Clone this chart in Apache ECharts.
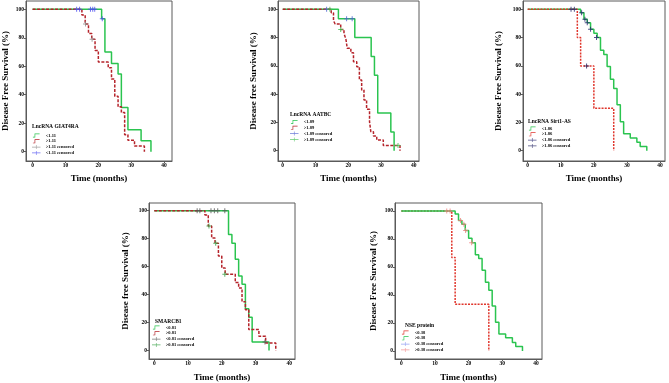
<!DOCTYPE html>
<html>
<head>
<meta charset="utf-8">
<script src="https://cdn.jsdelivr.net/npm/echarts@6/dist/echarts.min.js"></script>
<style>
  html, body { margin: 0; padding: 0; background: #fff; }
  #chart { width: 669px; height: 383px; }
</style>
</head>
<body>
<div id="chart"></div>
<script>
// axis tick labels
var xTicks = [0, 10, 20, 30, 40]
var yTicks = [0, 20, 40, 60, 80, 100]

// LncRNA GIAT4RA
var p1LowT = [0, 21, 22, 24, 26, 27, 29, 33, 36]
var p1LowS = [100, 93.3, 70, 62, 54.5, 31, 15.5, 7.8, 0]
var p1HighT = [0, 15, 16, 17, 18, 19, 20, 23, 24, 25, 26, 27, 28, 29, 31, 34]
var p1HighS = [100, 96, 89.7, 83, 79, 71, 63, 59, 51, 39, 31.5, 27.5, 12, 8, 4, 0]
var p1CensHighT = [16.1, 18.1]
var p1CensHighS = [89.7, 79]
var p1CensLowT = [13.4, 14.3, 17.6, 18.3, 18.9, 21.2]
var p1CensLowS = [100, 100, 100, 100, 100, 93.3]

// LncRNA AATBC
var p2LowT = [0, 17, 22, 27, 28, 29, 33, 34]
var p2LowS = [100, 93.3, 80, 66.7, 53.3, 26.7, 13.3, 0]
var p2HighT = [0, 14.8, 15.5, 16, 17.7, 18.7, 19.3, 19.7, 20.8, 21.6, 22.6, 23.4, 24.1, 24.8, 25.6, 26.5, 26.9, 27.7, 28.7, 30.7, 35.8]
var p2HighS = [100, 97.6, 92, 89.6, 85.8, 83, 78.7, 72.4, 69.3, 63, 59.4, 50, 43, 35.9, 29.3, 20.5, 13.4, 10.4, 7.6, 3.6, 0]
var p2CensLowT = [13.4, 19.5, 21.2]
var p2CensLowS = [100, 93.3, 93.3]
var p2CensHighT = [14.4, 17.7, 35.2]
var p2CensHighS = [100, 85.8, 3.6]

// LncRNA Sirt1-AS
var p3LowT = [0, 16, 17, 18, 19, 20, 21, 22, 23, 24, 25, 26, 27, 28, 29, 31, 33, 34, 36]
var p3LowS = [100, 97.6, 93, 90.5, 86, 83, 80, 71, 68, 59.5, 50.5, 44, 32.5, 20.5, 12, 9, 6, 3, 0]
var p3HighT = [0, 15, 16, 20, 26]
var p3HighS = [100, 80, 60, 30, 0]
var p3CensLowT = [13.1, 14.1, 16.3, 17.3, 18, 19, 20.8]
var p3CensLowS = [100, 100, 97.6, 93, 90.5, 86, 80]
var p3CensHighT = [17.8]
var p3CensHighS = [60]

// SMARCB1
var p4LowT = [0, 22, 23, 24, 25, 26, 27, 28, 29, 34]
var p4LowS = [100, 83, 76.7, 65.3, 53.4, 47.5, 30, 23.8, 6.2, 0]
var p4HighT = [0, 15, 16, 17, 18, 19, 20, 21, 24, 25, 26, 27, 28, 31, 33, 36]
var p4HighS = [100, 97, 89, 80.5, 76.7, 67.6, 59, 54.5, 48.7, 44.7, 35, 29.2, 15, 10.2, 5.5, 0]
var p4CensLowT = [12.7, 13.5, 16.8, 17.8, 18.8, 20.9, 32.8]
var p4CensLowS = [100, 100, 100, 100, 100, 100, 6.2]
var p4CensHighT = [16.2, 18.2, 20.9]
var p4CensHighS = [89, 76.7, 54.5]

// NSE protein
var p5LowT = [0, 15, 16, 26]
var p5LowS = [100, 66.7, 33.3, 0]
var p5HighT = [0, 16, 17, 18, 19, 20, 21, 22, 23, 24, 25, 26, 27, 28, 29, 31, 33, 34, 36]
var p5HighS = [100, 97.9, 93.2, 90.6, 86, 80.5, 77.3, 68.8, 66, 57.6, 49, 43.4, 32, 20.4, 12.1, 9.3, 6, 3.2, 0]
var p5CensLowT = []
var p5CensLowS = []
var p5CensHighT = [13.5, 14.5, 17.6, 18.6, 19.1, 20.9]
var p5CensHighS = [100, 100, 93.2, 90.6, 86, 77.3]

var FONT = 'Liberation Serif'
var GREEN = '#2ac44f'
var DARKRED = '#b5232a'
var RED = '#e0362c'
var PLUS = 'path://M2,0H3V2H5V3H3V5H2V3H0V2H2Z'
var STEP_ICON = 'path://M0,8H4V0H16V1.6H5.6V9.6H0Z'
var CENS_ICON = 'path://M0,4H20V5.4H0Z M9.3,0H10.7V9.4H9.3Z'

function pairs (t, s) {
  return t.map(function (v, i) { return [v, s[i]] })
}

function stepLine (name, t, s, idx, color, dash) {
  return {
    name: name, type: 'line', step: 'end', symbol: 'none', silent: true,
    xAxisIndex: idx, yAxisIndex: idx,
    data: pairs(t, s),
    lineStyle: { color: color, width: 1.5, type: dash },
    itemStyle: { color: color },
    z: 3
  }
}

function censored (name, t, s, idx, color) {
  return {
    name: name, type: 'scatter', symbol: PLUS, symbolSize: 5, silent: true,
    xAxisIndex: idx, yAxisIndex: idx,
    data: pairs(t, s),
    itemStyle: { color: color },
    z: 4
  }
}

var panels = [
  {
    grid: { left: 25, top: 1, width: 147, height: 160 }, x: [-2.0, 42.4], y: [-6.5, 105.8],
    yName: 'Disease Free Survival (%)', yGap: 16, xGap: 13,
    title: 'LncRNA GIAT4RA', tPos: [32, 124], lPos: [32, 133],
    series: [
      stepLine('<1.11', p1LowT, p1LowS, 0, GREEN, 'solid'),
      stepLine('>1.11', p1HighT, p1HighS, 0, DARKRED, [3, 1.5]),
      censored('>1.11 censored', p1CensHighT, p1CensHighS, 0, '#8a8a8a'),
      censored('<1.11 censored', p1CensLowT, p1CensLowS, 0, '#4b4bf0')
    ]
  },
  {
    grid: { left: 278, top: 1, width: 141, height: 160 }, x: [-1.44, 41.6], y: [-7.3, 105.9],
    yName: 'Disease free Survival (%)', yGap: 20, xGap: 13,
    title: 'LncRNA AATBC', tPos: [290, 112], lPos: [290, 119.5],
    series: [
      stepLine('<1.89', p2LowT, p2LowS, 1, GREEN, 'solid'),
      stepLine('>1.89', p2HighT, p2HighS, 1, DARKRED, [3, 1.5]),
      censored('<1.89 censored', p2CensLowT, p2CensLowS, 1, '#4b5fd0'),
      censored('>1.89 censored', p2CensHighT, p2CensHighS, 1, '#3fbf4f')
    ]
  },
  {
    grid: { left: 523, top: 1, width: 142, height: 160 }, x: [-1.42, 41.5], y: [-7.3, 105.9],
    yName: 'Disease Free Survival (%)', yGap: 20, xGap: 13,
    title: 'LncRNA Sirt1-AS', tPos: [528, 119], lPos: [528, 126],
    series: [
      stepLine('<1.86', p3LowT, p3LowS, 2, GREEN, 'solid'),
      stepLine('>1.86', p3HighT, p3HighS, 2, RED, [2, 1.2]),
      censored('<1.86 censored', p3CensLowT, p3CensLowS, 2, '#24246e'),
      censored('>1.86 censored', p3CensHighT, p3CensHighS, 2, '#1c1c5c')
    ]
  },
  {
    grid: { left: 149, top: 203, width: 146, height: 156.5 }, x: [-1.57, 41.7], y: [-6.0, 105.5],
    yName: 'Disease free Survival (%)', yGap: 19, xGap: 14,
    title: 'SMARCB1', tPos: [155, 319], lPos: [152, 325],
    series: [
      stepLine('<0.81', p4LowT, p4LowS, 3, GREEN, 'solid'),
      stepLine('>0.81', p4HighT, p4HighS, 3, DARKRED, [3, 1.5]),
      censored('<0.81 censored', p4CensLowT, p4CensLowS, 3, '#555555'),
      censored('>0.81 censored', p4CensHighT, p4CensHighS, 3, '#2f9f3f')
    ]
  },
  {
    grid: { left: 395, top: 203, width: 147, height: 156.5 }, x: [-1.87, 41.8], y: [-5.8, 105.7],
    yName: 'Disease Free Survival (%)', yGap: 17, xGap: 14,
    title: 'NSE protein', tPos: [405, 323], lPos: [401, 330],
    series: [
      stepLine('<0.38', p5LowT, p5LowS, 4, RED, [2, 1.2]),
      stepLine('>0.38', p5HighT, p5HighS, 4, GREEN, 'solid'),
      censored('<0.38 censored', p5CensLowT, p5CensLowS, 4, '#7a8cf0'),
      censored('>0.38 censored', p5CensHighT, p5CensHighS, 4, '#f08080')
    ]
  }
]

var option = { animation: false, grid: [], xAxis: [], yAxis: [], series: [], legend: [], title: [] }

panels.forEach(function (p, i) {
  option.grid.push(Object.assign({ show: true, borderColor: '#5a5a5a', borderWidth: 1 }, p.grid))
  option.xAxis.push({
    type: 'value', gridIndex: i, min: p.x[0], max: p.x[1],
    name: 'Time (months)', nameLocation: 'middle', nameGap: p.xGap,
    nameTextStyle: { fontFamily: FONT, fontWeight: 'bold', fontSize: 9, color: '#000' },
    axisLine: { onZero: false, lineStyle: { color: '#5a5a5a', width: 1 } },
    axisTick: { customValues: xTicks, length: 2, lineStyle: { color: '#5a5a5a' } },
    axisLabel: { customValues: xTicks, margin: 2, fontFamily: FONT, fontWeight: 'bold', fontSize: 5.5, color: '#000' },
    splitLine: { show: false }
  })
  option.yAxis.push({
    type: 'value', gridIndex: i, min: p.y[0], max: p.y[1],
    name: p.yName, nameLocation: 'middle', nameGap: p.yGap,
    nameTextStyle: { fontFamily: FONT, fontWeight: 'bold', fontSize: 9, color: '#000' },
    axisLine: { show: true, onZero: false, lineStyle: { color: '#5a5a5a', width: 1 } },
    axisTick: { show: true, customValues: yTicks, length: 2, lineStyle: { color: '#5a5a5a' } },
    axisLabel: { customValues: yTicks, margin: 2, fontFamily: FONT, fontWeight: 'bold', fontSize: 5.5, color: '#000' },
    splitLine: { show: false }
  })
  p.series.forEach(function (s) { option.series.push(s) })
  option.title.push({
    text: p.title, left: p.tPos[0], top: p.tPos[1], padding: 0,
    textStyle: { fontFamily: FONT, fontWeight: 'bold', fontSize: 5.5, color: '#000' }
  })
  option.legend.push({
    orient: 'vertical', left: p.lPos[0], top: p.lPos[1], padding: 0,
    itemWidth: 9, itemHeight: 4, itemGap: 0.8, selectedMode: false,
    textStyle: { fontFamily: FONT, fontWeight: 'bold', fontSize: 4.5, lineHeight: 5, color: '#000' },
    data: p.series.map(function (s) {
      return { name: s.name, icon: s.type === 'line' ? STEP_ICON : CENS_ICON }
    })
  })
})

var myChart = echarts.init(document.getElementById('chart'))
myChart.setOption(option, true)
</script>
</body>
</html>
